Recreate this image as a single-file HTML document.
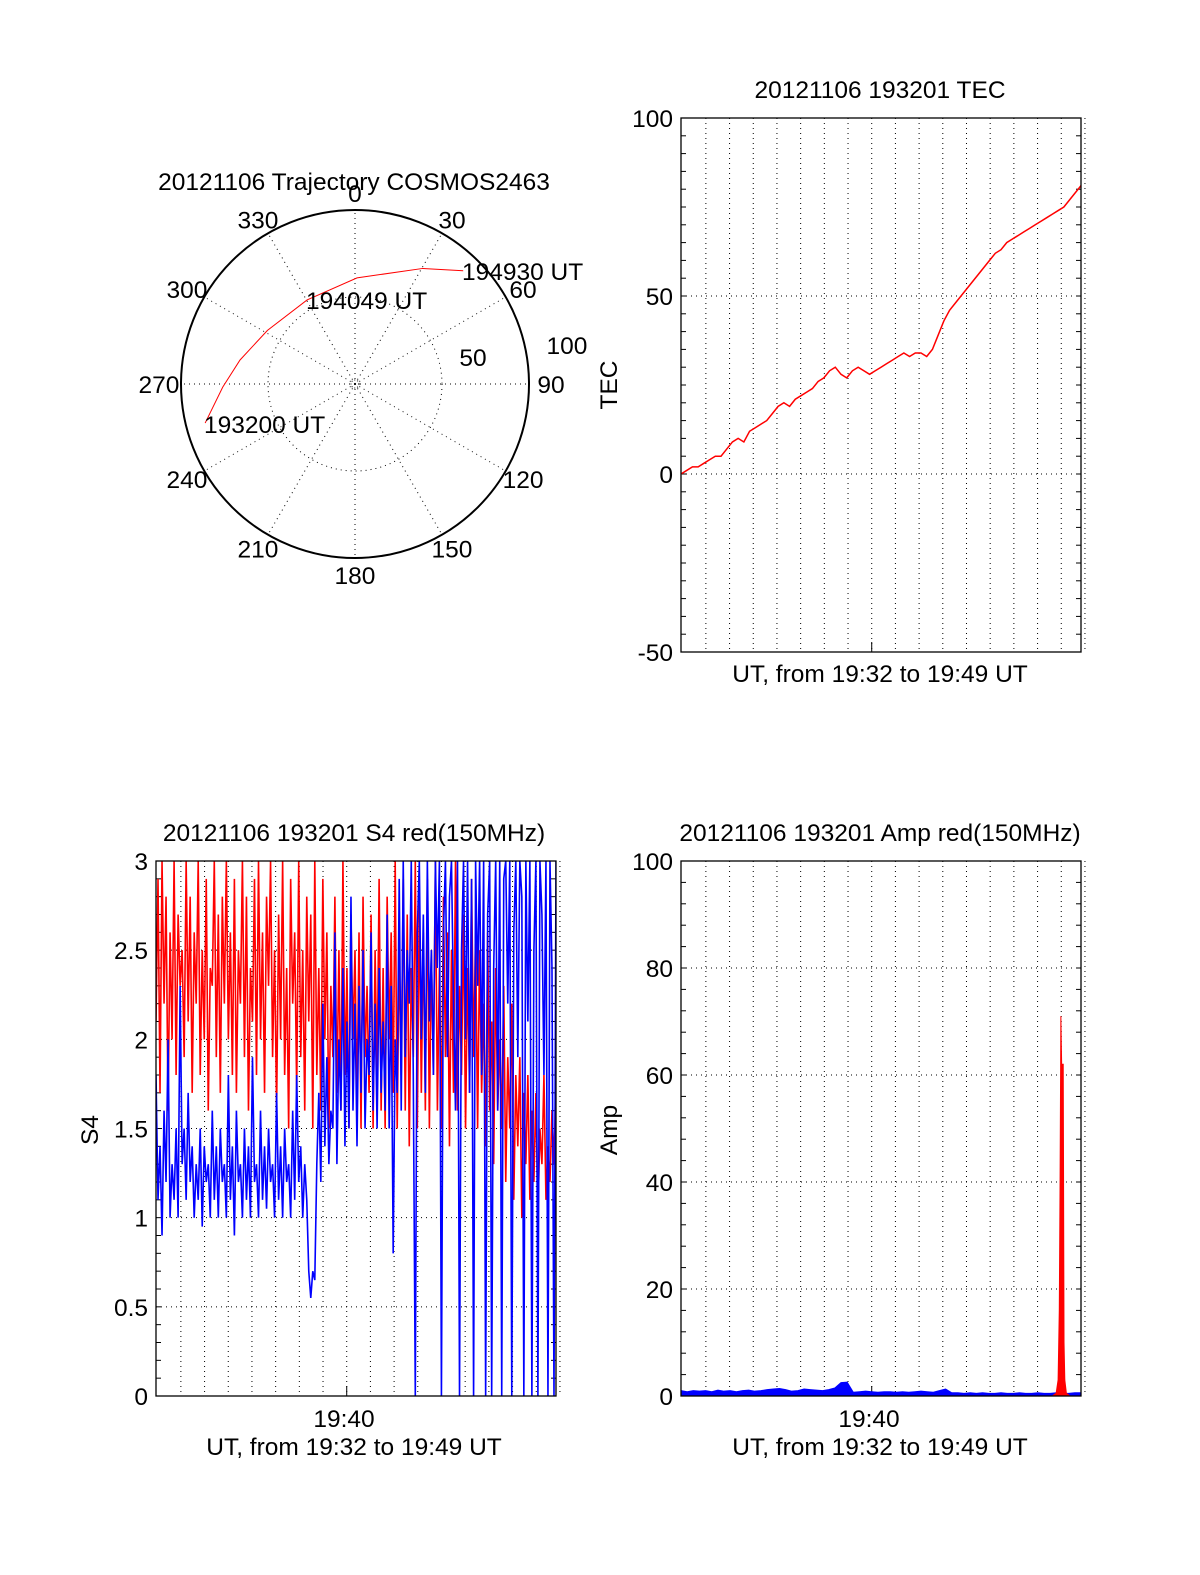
<!DOCTYPE html>
<html><head><meta charset="utf-8"><style>
body{margin:0;background:#fff}
svg{display:block;font-family:"Liberation Sans",sans-serif}
</style></head><body>
<svg id="s" width="1200" height="1575" viewBox="0 0 1200 1575"></svg>
<script>
// ---- data ----
const tecValues=[0,1,2,2,3,4,5,5,7,9,10,9,12,13,14,15,17,19,20,19,21,22,23,24,26,27,29,30,28,27,29,30,29,28,29,30,31,32,33,34,33,34,34,33,35,39,43,46,48,50,52,54,56,58,60,62,63,65,66,67,68,69,70,71,72,73,74,75,77,79,81];
const tecTicks=[100,50,0,-50];
const s4Red=[2.1,2.9,1.7,3.0,2.2,2.8,1.6,2.6,2.0,3.0,1.8,2.7,2.3,2.5,1.9,3.0,2.1,2.8,1.7,2.6,
2.2,3.0,1.8,2.5,2.0,2.9,1.6,2.4,2.3,3.0,1.9,2.7,1.7,2.8,2.2,3.0,2.0,2.6,1.8,2.9,
1.7,2.5,2.2,3.0,1.9,2.8,1.6,2.4,2.1,2.9,1.8,3.0,2.0,2.6,1.7,2.8,2.3,3.0,1.9,2.5,
1.6,2.7,2.0,3.0,1.8,2.4,1.5,2.9,2.2,2.6,1.7,3.0,1.9,2.5,1.6,2.8,2.1,2.7,1.5,3.0,
1.8,2.4,1.6,2.9,2.0,2.6,1.5,2.3,1.9,2.8,1.7,2.5,1.6,3.0,1.8,2.4,1.5,2.7,2.0,2.5,
1.6,2.6,1.5,2.8,1.9,2.3,1.7,2.7,1.5,2.5,1.8,2.9,1.6,2.4,1.5,2.8,2.0,2.6,1.7,3.0,
1.5,2.5,1.8,2.9,1.6,2.7,1.4,2.4,1.9,3.0,1.5,2.8,1.7,2.6,1.6,2.9,1.5,2.5,1.8,3.0,
1.6,2.4,1.5,2.8,1.9,2.6,1.4,2.5,1.7,3.0,1.6,2.3,1.8,2.7,1.5,2.4,1.7,2.9,1.9,2.6,
1.5,2.5,1.7,2.2,1.4,2.6,1.6,2.1,1.3,2.4,1.6,2.0,1.5,2.3,1.2,1.9,1.5,2.2,1.1,1.8,
1.4,1.9,1.0,1.7,1.3,1.8,1.1,1.6,1.2,1.7,1.0,1.5,1.3,1.8,1.1,1.4,1.2,1.6,1.3,1.8];
const s4Blue=[1.8,1.1,1.4,0.9,1.6,1.2,2.0,1.0,1.3,1.1,1.5,1.0,2.3,1.3,1.5,1.1,1.7,1.2,1.4,1.0,
1.3,1.1,1.5,0.95,1.4,1.2,1.3,1.0,1.6,1.1,1.4,1.0,1.5,1.2,1.3,1.0,1.8,1.1,1.4,0.9,
1.6,1.2,1.3,1.0,1.5,1.1,1.4,1.0,1.9,1.2,1.3,1.0,1.6,1.1,1.4,1.05,1.5,1.2,1.3,1.0,
1.7,1.1,1.4,1.0,1.5,1.2,1.3,1.0,1.6,1.1,1.8,1.2,1.4,1.0,1.3,1.1,0.7,0.55,0.7,0.65,
1.3,1.7,1.2,2.2,1.4,1.9,1.3,1.6,1.5,2.6,1.3,2.0,1.6,2.4,1.4,2.1,1.5,2.8,1.6,2.2,
1.4,2.3,1.7,2.5,1.5,2.0,1.8,2.6,1.6,2.2,1.5,2.4,1.7,2.1,1.6,2.7,1.5,2.3,0.8,2.0,
1.7,2.9,1.6,3.0,1.9,2.5,2.2,3.0,1.8,0.0,2.6,3.0,2.0,2.7,1.7,3.0,2.1,2.5,1.8,3.0,
2.4,3.0,0.0,2.6,3.0,1.9,2.8,3.0,2.2,1.6,3.0,0.0,2.5,3.0,2.0,3.0,1.7,2.9,0.0,3.0,
2.3,3.0,1.8,3.0,0.0,2.7,3.0,0.0,2.4,3.0,1.6,3.0,0.0,2.9,3.0,2.2,3.0,0.0,2.6,3.0,
1.9,3.0,2.8,0.0,3.0,2.1,3.0,0.0,2.5,3.0,0.0,3.0,2.7,1.8,3.0,0.0,3.0,2.4,0.0,3.0];
const s4Ticks=[0,0.5,1,1.5,2,2.5,3];
const ampBlue=[1.0,0.8,1.0,0.9,1.0,0.8,1.1,0.9,1.0,0.8,1.0,1.1,0.9,1.0,1.2,1.3,1.4,1.2,0.9,1.0,1.3,1.2,1.1,1.0,1.2,1.5,2.5,2.6,0.7,0.8,0.9,0.8,0.7,0.8,0.8,0.7,0.8,0.7,0.8,0.9,0.8,0.7,1.0,1.3,0.6,0.6,0.5,0.6,0.5,0.6,0.5,0.5,0.6,0.5,0.5,0.6,0.5,0.5,0.6,0.5,0.5,0.6,0.5,0.5,0.6,0.6];
const ampRedTime=[940,950,955,958,960,962,964,966,968,970,972,976,985];
const ampRedVal=[0,0.5,3,16,40,71,62,62,62,10,3,0.5,0];
const ampTicks=[0,20,40,60,80,100];
const trajAz=[255.4,268.7,281.8,301.5,330.3,1.1,30.4,43.7];
const trajZen=[89,76,67.5,59,55.6,61,77,90];
const polarAngles=[0,30,60,90,120,150,180,210,240,270,300,330];
// ---- helpers ----
const S=document.getElementById('s');const NS='http://www.w3.org/2000/svg';
const FS=24.5;
function E(tag,at,name,par){const e=document.createElementNS(NS,tag);for(const k in at)e.setAttribute(k,at[k]);


(par||S).appendChild(e);return e;}
function T(x,y,s,name,anchor,rot){const e=E('text',{x:x,y:y,'font-size':FS,'text-anchor':anchor||'middle',fill:'#000'},name);
if(rot)e.setAttribute('transform','rotate(-90 '+x+' '+y+')');e.textContent=s;return e;}
const TMAX=1013,T0MIN=63;
function frame(L,Tp,R,B,ymin,ymax,ticks,name,minorStep){
 const sx=t=>L+(t/TMAX)*(R-L), sy=v=>B-(v-ymin)/(ymax-ymin)*(B-Tp);
 const g=E('g',{},name+'-axes');
 for(let m=0;m<17;m++){const x=sx(T0MIN+m*60);
  E('line',{x1:x,y1:Tp,x2:x,y2:B,stroke:'#000','stroke-width':1,'stroke-dasharray':'1,4'},name+'-vgrid',g);
  E('line',{x1:x,y1:B,x2:x,y2:B-(m==7?10:0),stroke:'#000'},name+'-xtick',g);}
 ticks.forEach(v=>{const y=sy(v);E('line',{x1:L,y1:y,x2:R,y2:y,stroke:'#000','stroke-dasharray':'1,4'},name+'-hgrid',g);
  T(L-8,y+9,String(v),name+'-ytick-label','end');});
 for(let v=ymin;v<=ymax+1e-9;v+=minorStep){const y=sy(v);
  E('line',{x1:L,y1:y,x2:L+5,y2:y,stroke:'#000'},name+'-minor-tick',g);
  E('line',{x1:R,y1:y,x2:R-5,y2:y,stroke:'#000'},name+'-minor-tick',g);}
 return {sx,sy,L,Tp,R,B,g};}
function box(f,name){E('rect',{x:f.L,y:f.Tp,width:f.R-f.L,height:f.B-f.Tp,fill:'none',stroke:'#000','stroke-width':1.3},name);}
const clip=E('defs',{},'defs');
function clipFor(id,f){const c=E('clipPath',{id:id},id,clip);E('rect',{x:f.L,y:f.Tp,width:f.R-f.L,height:f.B-f.Tp},id+'-rect',c);}
// ---- Polar ----
const cx=355,cy=384,R0=174;
T(354,190,'20121106 Trajectory COSMOS2463','polar-title');
E('circle',{cx:cx,cy:cy,r:R0,fill:'none',stroke:'#000','stroke-width':2},'polar-outer-circle');
E('circle',{cx:cx,cy:cy,r:R0/2,fill:'none',stroke:'#000','stroke-dasharray':'1,4'},'polar-50-circle');
E('circle',{cx:cx,cy:cy,r:4,fill:'none',stroke:'#000','stroke-dasharray':'1,2'},'polar-center');
polarAngles.forEach(a=>{const r=a*Math.PI/180,x=cx+R0*Math.sin(r),y=cy-R0*Math.cos(r);
 E('line',{x1:cx,y1:cy,x2:x,y2:y,stroke:'#000','stroke-dasharray':'1,4'},'polar-spoke');
 const lx=cx+(R0+(a%90==0?22:20))*Math.sin(r),ly=cy-(R0+(a%90==0?17:16))*Math.cos(r)+9;
 T(lx,ly,String(a),'polar-angle-label');});
T(567,354,'100','polar-radius-label-100');T(473,366,'50','polar-radius-label-50');
{let p=trajAz.map((a,i)=>{const r=a*Math.PI/180,d=trajZen[i]/100*R0;return [cx+d*Math.sin(r),cy-d*Math.cos(r)];});
 E('path',{d:'M'+p.map(q=>q.join(',')).join(' L'),fill:'none',stroke:'#f00','stroke-width':1},'trajectory-line');}
T(204,433,'193200 UT','start-time-label','start');
T(306,309,'194049 UT','mid-time-label','start');
T(462,280,'194930 UT','end-time-label','start');
// ---- TEC ----
T(880,98,'20121106 193201 TEC','tec-title');
const ft=frame(681,118,1081,652,-50,100,tecTicks,'tec',5);
T(617,385,'TEC','tec-y-axis-title','middle',true);
T(880,682,'UT, from 19:32 to 19:49 UT','tec-x-axis-title');
E('path',{d:'M'+tecValues.map((v,i)=>ft.sx(i/(tecValues.length-1)*TMAX)+','+ft.sy(v)).join(' L'),fill:'none',stroke:'#f00','stroke-width':1.5},'tec-line');
box(ft,'tec-plot-frame');
// ---- S4 ----
T(354,841,'20121106 193201 S4 red(150MHz)','s4-title');
const fs=frame(156,861,556,1396,0,3,s4Ticks,'s4',0.1);
clipFor('cs4',fs);
T(98,1130,'S4','s4-y-axis-title','middle',true);
T(344,1427,'19:40','s4-x-tick-label');
T(354,1455,'UT, from 19:32 to 19:49 UT','s4-x-axis-title');
E('path',{d:'M'+s4Red.map((v,i)=>fs.sx(i/(s4Red.length-1)*TMAX)+','+fs.sy(v)).join(' L'),fill:'none',stroke:'#f00','stroke-width':1.6,'clip-path':'url(#cs4)'},'s4-red-line');
E('path',{d:'M'+s4Blue.map((v,i)=>fs.sx(i/(s4Blue.length-1)*TMAX)+','+fs.sy(v)).join(' L'),fill:'none',stroke:'#00f','stroke-width':1.6,'clip-path':'url(#cs4)'},'s4-blue-line');
box(fs,'s4-plot-frame');
// ---- Amp ----
T(880,841,'20121106 193201 Amp red(150MHz)','amp-title');
const fa=frame(681,861,1081,1396,0,100,ampTicks,'amp',4);
T(617,1130,'Amp','amp-y-axis-title','middle',true);
T(869,1427,'19:40','amp-x-tick-label');
T(880,1455,'UT, from 19:32 to 19:49 UT','amp-x-axis-title');
{let d='M'+fa.sx(0)+','+fa.sy(0)+' '+ampBlue.map((v,i)=>'L'+fa.sx(i/(ampBlue.length-1)*TMAX)+','+fa.sy(v)).join(' ')+' L'+fa.sx(TMAX)+','+fa.sy(0)+'Z';
 E('path',{d:d,fill:'#00f',stroke:'#00f','stroke-width':1},'amp-blue-area');}
{let d='M'+ampRedTime.map((t,i)=>fa.sx(t)+','+fa.sy(ampRedVal[i])).join(' L')+'Z';
 E('path',{d:d,fill:'#f00',stroke:'#f00','stroke-width':1},'amp-red-peak');}
box(fa,'amp-plot-frame');
</script>
</body></html>
